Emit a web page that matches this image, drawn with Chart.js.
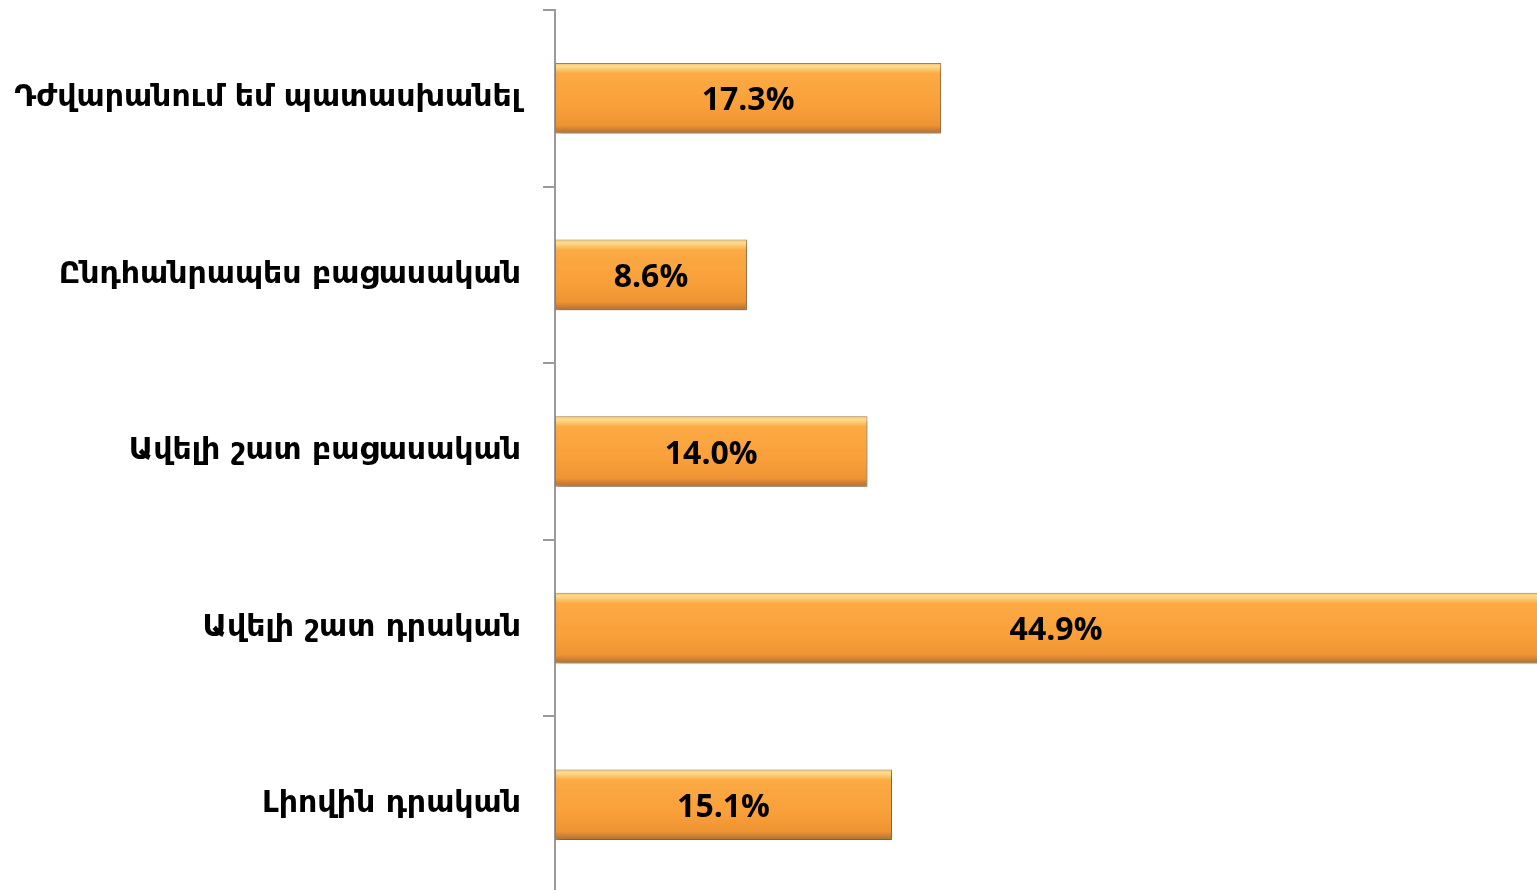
<!DOCTYPE html>
<html>
<head>
<meta charset="utf-8">
<script src="https://cdn.jsdelivr.net/npm/chart.js@4/dist/chart.umd.min.js"></script>
<style>
  html, body { margin: 0; padding: 0; background: #fff; overflow: hidden; }
  #wrap { width: 1537px; height: 894px; }
</style>
</head>
<body>
<div id="wrap"><canvas id="myChart" width="1537" height="894"></canvas></div>
<script>
// categories from top to bottom, values in percent
const categories = [
    'Դժվարանում եմ պատասխանել',
    'Ընդհանրապես բացասական',
    'Ավելի շատ բացասական',
    'Ավելի շատ դրական',
    'Լիովին դրական'
];
const shares = [17.3, 8.6, 14.0, 44.9, 15.1];
const valueLabels = ['17.3%', '8.6%', '14.0%', '44.9%', '15.1%'];
const axisMax = 44;

// vertical gradient for each bar, built from the bar's own position
function barFill(context) {
    const chart = context.chart;
    const area = chart.chartArea;
    if (!area) return '#F9A03C';
    const meta = chart.getDatasetMeta(0);
    const bar = meta.data[context.dataIndex];
    if (!bar || !bar.height) return '#F9A03C';
    const top = bar.y - bar.height / 2;
    const bottom = bar.y + bar.height / 2;
    const g = chart.ctx.createLinearGradient(0, top, 0, bottom);
    g.addColorStop(0, '#F5C46E');
    g.addColorStop(0.05, '#FDDC8E');
    g.addColorStop(0.15, '#FBAA44');
    g.addColorStop(0.6, '#F9A03A');
    g.addColorStop(0.88, '#EE9433');
    g.addColorStop(0.95, '#C97D33');
    g.addColorStop(1, '#A8733F');
    return g;
}

// soft drop shadow under bars
const shadowPlugin = {
    id: 'shadowPlugin',
    beforeDatasetDraw: (chart) => {
        const ctx = chart.ctx;
        ctx.save();
        ctx.shadowColor = 'rgba(0, 0, 0, 0.35)';
        ctx.shadowBlur = 6;
        ctx.shadowOffsetX = 2;
        ctx.shadowOffsetY = 3;
    },
    afterDatasetDraw: (chart) => {
        chart.ctx.restore();
    }
};

// value text centred on the full (unclipped) bar length
const valueLabelPlugin = {
    id: 'valueLabelPlugin',
    afterDatasetsDraw: (chart) => {
        const ctx = chart.ctx;
        const xScale = chart.scales.x;
        const meta = chart.getDatasetMeta(0);
        ctx.save();
        ctx.font = 'bold 32px "Open Sans", Lato, sans-serif';
        ctx.fillStyle = '#000';
        ctx.textAlign = 'center';
        ctx.textBaseline = 'middle';
        meta.data.forEach((bar, i) => {
            const x = (xScale.getPixelForValue(0) + xScale.getPixelForValue(shares[i])) / 2;
            ctx.fillText(valueLabels[i], x, bar.y + 3);
        });
        ctx.restore();
    }
};

// first pass renders with flat colour, second pass picks up the gradients
const chart = new Chart(document.getElementById('myChart').getContext('2d'), {
    type: 'bar',
    data: {
        labels: categories,
        datasets: [{
            data: shares,
            backgroundColor: barFill,
            borderColor: '#B8834A',
            borderWidth: 1,
            borderSkipped: false,
            categoryPercentage: 0.8,
            barPercentage: 0.5
        }]
    },
    options: {
        indexAxis: 'y',
        responsive: false,
        animation: false,
        layout: { padding: { top: 10, bottom: 1, left: 0, right: 0 } },
        plugins: {
            legend: { display: false },
            tooltip: { enabled: false }
        },
        scales: {
            x: {
                display: false,
                min: 0,
                max: axisMax
            },
            y: {
                grid: {
                    display: true,
                    offset: true,
                    drawOnChartArea: false,
                    drawTicks: true,
                    tickLength: 12,
                    color: '#9a9a9a',
                    lineWidth: 2
                },
                border: { display: true, color: '#9a9a9a', width: 2 },
                ticks: {
                    color: '#000',
                    padding: 22,
                    font: { family: '"DejaVu Sans"', size: 30, weight: 'bold' }
                },
                afterFit: (scale) => {
                    scale.width = 555;
                    scale.paddingTop = 0;
                    scale.paddingBottom = 0;
                }
            }
        }
    },
    plugins: [shadowPlugin, valueLabelPlugin]
});
chart.update();
</script>
</body>
</html>
